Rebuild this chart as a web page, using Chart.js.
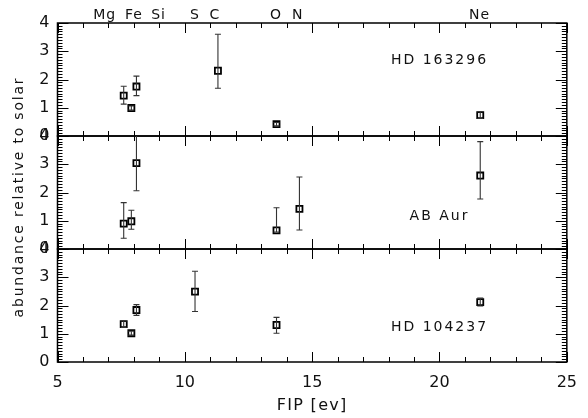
<!DOCTYPE html>
<html>
<head>
<meta charset="utf-8">
<script src="https://cdn.jsdelivr.net/npm/chart.js@4.4.1/dist/chart.umd.min.js"></script>
<style>
  html, body { margin: 0; padding: 0; background: #fff; }
  #wrap { width: 588px; height: 418px; }
</style>
</head>
<body>
<div id="wrap"><canvas id="c" width="588" height="418"></canvas></div>
<script>
// Element names along the top edge and the FIP value each name sits over
const elementNames = ['Mg', 'Fe', 'Si', 'S', 'C', 'O', 'N', 'Ne'];
const elementLabelFip = [6.85, 8.0, 8.97, 10.4, 11.18, 13.58, 14.43, 21.57];

// HD 163296: Mg Fe Si C O Ne
const hd163296Fip   = [7.6, 7.9, 8.1, 11.3, 13.6, 21.6];
const hd163296Abund = [1.43, 0.99, 1.75, 2.31, 0.42, 0.74];
const hd163296Low   = [1.13, 0.92, 1.43, 1.69, 0.36, 0.62];
const hd163296High  = [1.76, 1.06, 2.12, 3.60, 0.48, 0.86];

// AB Aur: Mg Fe Si O N Ne
const abAurFip   = [7.6, 7.9, 8.1, 13.6, 14.5, 21.6];
const abAurAbund = [0.90, 0.98, 3.04, 0.66, 1.42, 2.60];
const abAurLow   = [0.38, 0.70, 2.06, 0.60, 0.67, 1.77];
const abAurHigh  = [1.64, 1.37, 4.30, 1.46, 2.55, 3.80];

// HD 104237: Mg Fe Si S O Ne
const hd104237Fip   = [7.6, 7.9, 8.1, 10.4, 13.6, 21.6];
const hd104237Abund = [1.34, 1.02, 1.84, 2.49, 1.31, 2.12];
const hd104237Low   = [1.22, 0.95, 1.65, 1.79, 1.02, 1.98];
const hd104237High  = [1.45, 1.09, 2.03, 3.21, 1.58, 2.26];

const yTicks = [0, 1, 2, 3, 4];
const xTicks = [5, 10, 15, 20, 25];

const FONT = "'DejaVu Sans', sans-serif";

function points(xs, ys, lo, hi) {
  return xs.map((x, i) => ({ x: x, y: ys[i], lo: lo[i], hi: hi[i] }));
}

const panels = [
  { axis: 'yA', name: 'HD 163296', data: points(hd163296Fip, hd163296Abund, hd163296Low, hd163296High), at: [20, 2.68] },
  { axis: 'yB', name: 'AB Aur',    data: points(abAurFip, abAurAbund, abAurLow, abAurHigh),             at: [20, 1.17] },
  { axis: 'yC', name: 'HD 104237', data: points(hd104237Fip, hd104237Abund, hd104237Low, hd104237High), at: [20, 1.21] }
];

function line(ctx, x1, y1, x2, y2) {
  ctx.beginPath(); ctx.moveTo(x1, y1); ctx.lineTo(x2, y2); ctx.stroke();
}

// Frames, inward tick marks, error bars and the free text
const idlFrames = {
  id: 'idlFrames',
  beforeDatasetsDraw(chart) {
    const ctx = chart.ctx, xs = chart.scales.x;
    ctx.save();
    ctx.strokeStyle = '#000';
    for (const p of panels) {
      const ys = chart.scales[p.axis];
      ctx.lineWidth = 1;
      for (let v = xs.min; v <= xs.max; v += 1) {
        const px = Math.round(xs.getPixelForValue(v)) + 0.5;
        const len = v % 5 === 0 ? 10 : 5;
        line(ctx, px, ys.top, px, ys.top + len);
        line(ctx, px, ys.bottom, px, ys.bottom - len);
      }
      for (let i = 0; i <= 40; i++) {
        const py = Math.round(ys.getPixelForValue(i / 10)) + 0.5;
        const len = i % 10 === 0 ? 11 : 5;
        line(ctx, xs.left, py, xs.left + len, py);
        line(ctx, xs.right, py, xs.right - len, py);
      }
      ctx.lineWidth = 1.5;
      ctx.strokeRect(xs.left, ys.top, xs.right - xs.left, ys.bottom - ys.top);
    }
    ctx.restore();
  },
  afterDatasetsDraw(chart) {
    const ctx = chart.ctx, xs = chart.scales.x;
    ctx.save();
    ctx.strokeStyle = '#333';
    ctx.lineWidth = 1.1;
    chart.data.datasets.forEach((ds, di) => {
      const ys = chart.scales[ds.yAxisID];
      const meta = chart.getDatasetMeta(di);
      ctx.save();
      ctx.beginPath();
      ctx.rect(xs.left, ys.top, xs.right - xs.left, ys.bottom - ys.top);
      ctx.clip();
      ds.data.forEach((d, i) => {
        const el = meta.data[i];
        const yt = ys.getPixelForValue(d.hi), yb = ys.getPixelForValue(d.lo);
        line(ctx, el.x, yt, el.x, yb);
        line(ctx, el.x - 3, yt, el.x + 3, yt);
        line(ctx, el.x - 3, yb, el.x + 3, yb);
      });
      ctx.restore();
    });
    ctx.restore();
  },
  afterDraw(chart) {
    const ctx = chart.ctx, xs = chart.scales.x;
    ctx.save();
    ctx.fillStyle = '#111';
    ctx.textAlign = 'center';
    ctx.textBaseline = 'middle';
    if ('letterSpacing' in ctx) ctx.letterSpacing = '1px';
    ctx.font = '14px ' + FONT;
    elementNames.forEach((n, i) => {
      ctx.fillText(n, xs.getPixelForValue(elementLabelFip[i]), 15);
    });
    if ('letterSpacing' in ctx) ctx.letterSpacing = '2px';
    for (const p of panels) {
      const ys = chart.scales[p.axis];
      ctx.fillText(p.name, xs.getPixelForValue(p.at[0]), ys.getPixelForValue(p.at[1]));
    }
    // axis titles
    if ('letterSpacing' in ctx) ctx.letterSpacing = '1.3px';
    ctx.font = '16px ' + FONT;
    ctx.fillText('FIP [ev]', (xs.left + xs.right) / 2, 406);
    if ('letterSpacing' in ctx) ctx.letterSpacing = '1.8px';
    ctx.font = '14px ' + FONT;
    ctx.translate(19, 197);
    ctx.rotate(-Math.PI / 2);
    ctx.fillText('abundance relative to solar', 0, 0);
    ctx.restore();
  }
};

function yAxis() {
  return {
    type: 'linear',
    position: 'left',
    stack: 'abundance',
    stackWeight: 1,
    min: 0,
    max: 4,
    afterBuildTicks: (s) => { s.ticks = yTicks.map(v => ({ value: v })); },
    afterFit: (s) => { s.width = 57.5; },
    grid: { display: false, drawTicks: false },
    border: { display: false },
    ticks: { color: '#111', padding: 8, autoSkip: false, font: { family: FONT, size: 16 } }
  };
}

new Chart(document.getElementById('c'), {
  type: 'scatter',
  data: {
    datasets: panels.map(p => ({
      label: p.name,
      yAxisID: p.axis,
      data: p.data,
      pointStyle: 'rect',
      pointRadius: 4.3,
      pointBorderWidth: 1.8,
      pointBorderColor: '#000',
      pointBackgroundColor: 'rgba(0,0,0,0)',
      showLine: false
    }))
  },
  options: {
    responsive: false,
    devicePixelRatio: 1,
    animation: false,
    layout: { padding: { top: 23, right: 14.5, left: 0, bottom: 0 } },
    plugins: { legend: { display: false }, tooltip: { enabled: false } },
    scales: {
      x: {
        type: 'linear',
        position: 'bottom',
        min: 5,
        max: 25,
        afterBuildTicks: (s) => { s.ticks = xTicks.map(v => ({ value: v })); },
        afterFit: (s) => { s.height = 56; },
        grid: { display: false, drawTicks: false },
        border: { display: false },
        ticks: { color: '#111', padding: 11, maxRotation: 0, font: { family: FONT, size: 16 } }
      },
      // stacked panels are laid out bottom-up in definition order
      yC: yAxis(),
      yB: yAxis(),
      yA: yAxis()
    }
  },
  plugins: [idlFrames]
});
</script>
</body>
</html>
